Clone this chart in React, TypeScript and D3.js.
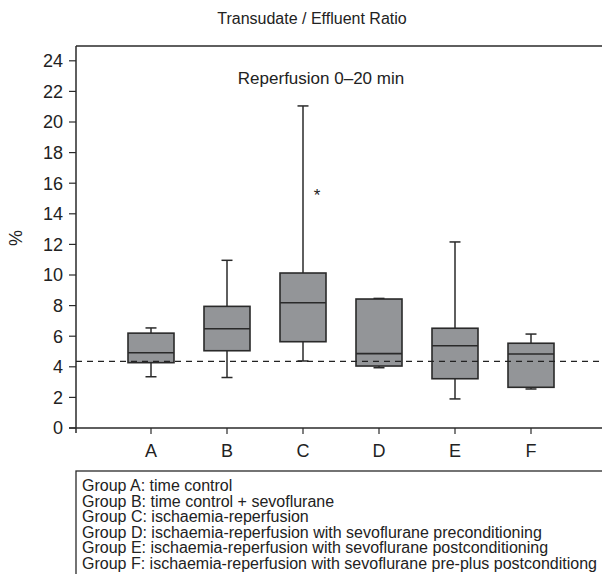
import React from "react";
import * as d3 from "d3";

const groups = ["A", "B", "C", "D", "E", "F"];
const whiskerLow = [3.35, 3.3, 4.38, 3.94, 1.9, 2.55];
const q1 = [4.27, 5.05, 5.64, 4.05, 3.22, 2.66];
const medians = [4.92, 6.49, 8.19, 4.86, 5.38, 4.84];
const q3 = [6.2, 7.95, 10.13, 8.43, 6.52, 5.54];
const whiskerHigh = [6.54, 10.96, 21.05, 8.47, 12.16, 6.14];
const yTicks = [0, 2, 4, 6, 8, 10, 12, 14, 16, 18, 20, 22, 24];
const referenceLevel = 4.35;
const asteriskGroup = "C";
const asteriskValue = 15.4;
const legendLines = [
  "Group A: time control",
  "Group B: time control + sevoflurane",
  "Group C: ischaemia-reperfusion",
  "Group D: ischaemia-reperfusion with sevoflurane preconditioning",
  "Group E: ischaemia-reperfusion with sevoflurane postconditioning",
  "Group F: ischaemia-reperfusion with sevoflurane pre-plus postconditiong",
];
const title = "Transudate / Effluent Ratio";
const subtitle = "Reperfusion 0\u201320 min";
const yLabel = "%";

const FONT = "'Liberation Sans', Arial, Helvetica, sans-serif";

export default function App() {
  const W = 602;
  const H = 574;
  const left = 76;
  const top = 46;
  const bottom = 428;
  const y = d3.scaleLinear().domain([0, 24]).range([bottom, 60.8]);
  const x = d3.scalePoint<string>().domain(groups).range([151, 531]);
  const boxW = 46;
  const capW = 11;
  const stroke = "#2a2a2a";
  const fill = "#939598";
  const text = "#222";

  return (
    <svg
      width={W}
      height={H}
      style={{ position: "absolute", left: 0, top: 0, background: "#fff" }}
      fontFamily={FONT}
    >
      {/* title */}
      <text x={312} y={24} textAnchor="middle" fontSize={16} fill={text}>
        {title}
      </text>
      {/* frame */}
      <line x1={left} x2={W} y1={top} y2={top} stroke={stroke} strokeWidth={1.5} />
      <line x1={left} x2={left} y1={top} y2={bottom + 5} stroke={stroke} strokeWidth={1.5} />
      <line x1={left - 7} x2={W} y1={bottom} y2={bottom} stroke={stroke} strokeWidth={1.5} />
      {/* subtitle */}
      <text x={321} y={84} textAnchor="middle" fontSize={17} fill={text}>
        {subtitle}
      </text>
      {/* y ticks */}
      {yTicks.map((t) => (
        <g key={t}>
          <line x1={left - 7} x2={left} y1={y(t)} y2={y(t)} stroke={stroke} strokeWidth={1.2} />
          <text x={left - 13} y={y(t)} dy="0.36em" textAnchor="end" fontSize={18} fill={text}>
            {t}
          </text>
        </g>
      ))}
      <text
        transform={`translate(22,${238}) rotate(-90)`}
        textAnchor="middle"
        fontSize={18}
        fill={text}
      >
        {yLabel}
      </text>
      {/* x ticks */}
      {groups.map((g) => (
        <g key={g}>
          <line x1={x(g)} x2={x(g)} y1={bottom} y2={bottom + 6} stroke={stroke} strokeWidth={1.2} />
          <text x={x(g)} y={457} textAnchor="middle" fontSize={18} fill={text}>
            {g}
          </text>
        </g>
      ))}
      {/* boxes */}
      {groups.map((g, i) => {
        const cx = x(g) as number;
        return (
          <g key={g}>
            <line x1={cx} x2={cx} y1={y(whiskerHigh[i])} y2={y(q3[i])} stroke={stroke} strokeWidth={1.5} />
            <line x1={cx} x2={cx} y1={y(q1[i])} y2={y(whiskerLow[i])} stroke={stroke} strokeWidth={1.5} />
            <line x1={cx - capW / 2} x2={cx + capW / 2} y1={y(whiskerHigh[i])} y2={y(whiskerHigh[i])} stroke={stroke} strokeWidth={1.5} />
            <line x1={cx - capW / 2} x2={cx + capW / 2} y1={y(whiskerLow[i])} y2={y(whiskerLow[i])} stroke={stroke} strokeWidth={1.5} />
            <rect
              x={cx - boxW / 2}
              y={y(q3[i])}
              width={boxW}
              height={y(q1[i]) - y(q3[i])}
              fill={fill}
              stroke={stroke}
              strokeWidth={1.6}
            />
            <line x1={cx - boxW / 2} x2={cx + boxW / 2} y1={y(medians[i])} y2={y(medians[i])} stroke={stroke} strokeWidth={1.6} />
          </g>
        );
      })}
      {/* reference dashed line */}
      <line
        x1={left}
        x2={W}
        y1={y(referenceLevel)}
        y2={y(referenceLevel)}
        stroke={text}
        strokeWidth={1.3}
        strokeDasharray="6,5"
      />
      {/* asterisk */}
      <text x={(x(asteriskGroup) as number) + 14} y={y(asteriskValue) + 9} textAnchor="middle" fontSize={17} fill={text}>
        *
      </text>
      {/* legend */}
      <rect x={left} y={471} width={W} height={H} fill="none" stroke={stroke} strokeWidth={1.3} />
      {legendLines.map((l, i) => (
        <text key={i} x={82} y={491 + i * 15.6} fontSize={16} fill={text}>
          {l}
        </text>
      ))}
    </svg>
  );
}
